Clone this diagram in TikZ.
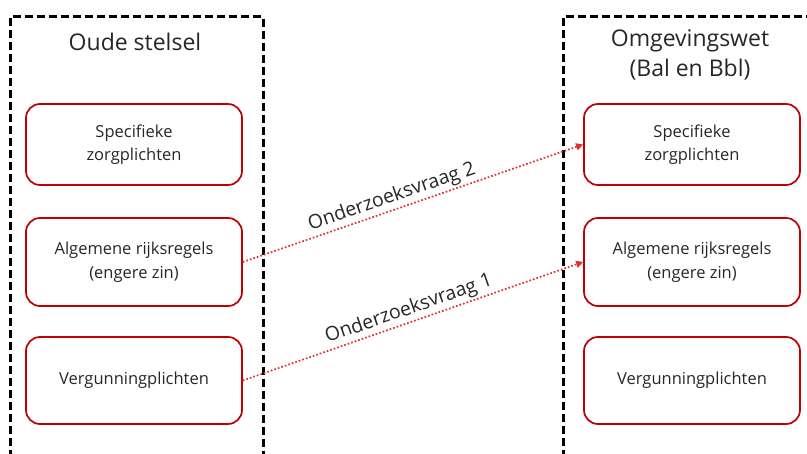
\documentclass[tikz,border=0pt]{standalone}
\usepackage{fontspec}
\setmainfont{Open Sans}
\usetikzlibrary{arrows.meta}
\definecolor{boxred}{HTML}{C00000}
\definecolor{arrowred}{HTML}{E03030}
\definecolor{txt}{HTML}{262626}
\begin{document}
\begin{tikzpicture}[x=1pt,y=-1pt,
  frame/.style={line width=3pt,dash pattern=on 8pt off 4pt,black},
  rulebox/.style={draw=boxred,line width=1.7pt,rounded corners=14pt,
    minimum width=216pt,minimum height=84pt,align=center,
    text=txt,font=\fontsize{16.5}{23.5}\selectfont},
  title/.style={text=txt,font=\fontsize{23}{30}\selectfont,align=center},
  question/.style={draw=arrowred,line width=1.7pt,dotted,
    -{Triangle[length=7pt,width=7pt]}},
  qlabel/.style={text=txt,font=\fontsize{19.5}{24}\selectfont,sloped,above,inner sep=2pt}]
\useasboundingbox (0,0) rectangle (807,454);
% dashed frames (open at the bottom and right)
\draw[frame] (10,470) -- (10,17) -- (263,17) -- (263,470);
\draw[frame] (563,470) -- (563,17) -- (820,17);
% titles
\node[title] (oldtitle) at (135,42) {Oude stelsel};
\node[title] (newtitle) at (690,55) {Omgevingswet\\(Bal en Bbl)};
% old system
\node[rulebox,minimum height=81pt] (oldspec) at (134,144.5) {Specifieke\\zorgplichten};
\node[rulebox,minimum height=88pt] (oldalg) at (134,262) {Algemene rijksregels\\(engere zin)};
\node[rulebox,minimum height=87pt] (oldverg) at (134,380.5) {Vergunningplichten};
% new system
\node[rulebox,minimum height=81pt] (newspec) at (692,144.5) {Specifieke\\zorgplichten};
\node[rulebox,minimum height=88pt] (newalg) at (692,262) {Algemene rijksregels\\(engere zin)};
\node[rulebox,minimum height=87pt] (newverg) at (692,380.5) {Vergunningplichten};
% research questions
\draw[question] (oldalg.east) -- node[qlabel,pos=0.45] (q2) {Onderzoeksvraag 2} (newspec.west);
\draw[question] (oldverg.east) -- node[qlabel,pos=0.5] (q1) {Onderzoeksvraag 1} (newalg.west);
\end{tikzpicture}
\end{document}
